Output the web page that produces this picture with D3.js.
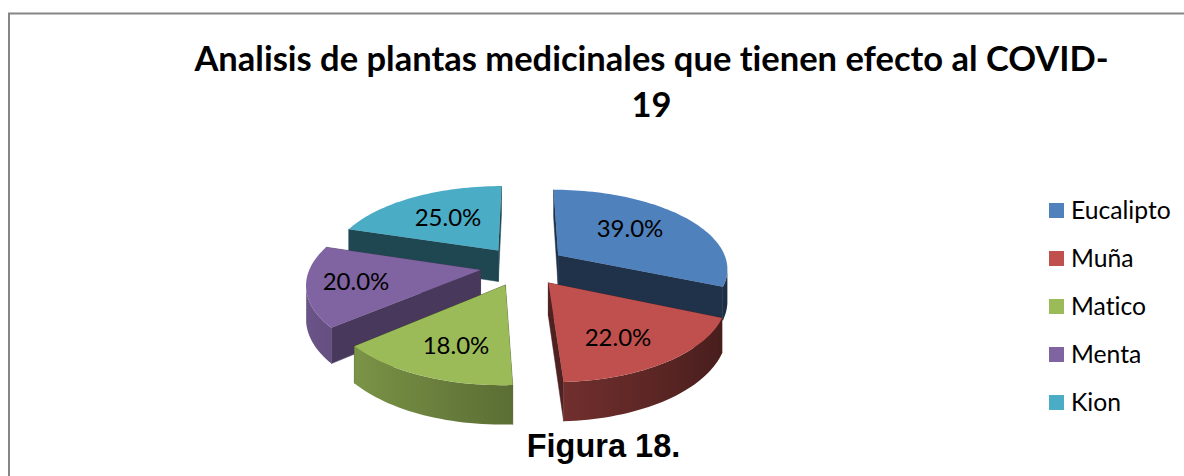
<!DOCTYPE html>
<html>
<head>
<meta charset="utf-8">
<script src="https://cdn.jsdelivr.net/npm/d3@7/dist/d3.min.js"></script>
<style>
html,body{margin:0;padding:0;background:#fff;overflow:hidden}
svg{display:block}
text{font-variant-ligatures:none}
</style>
</head>
<body>
<svg id="chart" width="1184" height="476"></svg>
<script>
const categories = ["Eucalipto","Muña","Matico","Menta","Kion"];
const values = [39,22,18,20,25];
const valueLabels = ["39.0%","22.0%","18.0%","20.0%","25.0%"];
const colors = ["#4F81BD","#C0504D","#9BBB59","#8064A2","#4BACC6"];
const cutShades = [0.39,0.41,0.42,0.56,0.41];
const titleLines = ["Analisis de plantas medicinales que tienen efecto al COVID-","19"];
const caption = "Figura 18.";

const svg = d3.select("#chart");
const W = 1184, H = 476;
svg.append("rect").attr("width",W).attr("height",H).attr("fill","#fff");
const defs = svg.append("defs");

// frame (top and left edges only, the rest is cropped off)
svg.append("path").attr("d","M9,476V13.5H1184").attr("fill","none").attr("stroke","#868686").attr("stroke-width",2);

// 3D projection of the exploded pie
const cx=523, cy=266, R=170, explode=43, tilt=0.462, persp=0.000896, thick=32;
const project=(X,Y,z=0)=>{const w=1+persp*Y;return [cx+X/w, cy-tilt*Y/w+z/w];};

const pie=d3.pie().sort(null).value(d=>d)(values);
const slices=pie.map((p,i)=>{
  const mid=(p.startAngle+p.endAngle)/2;
  return {i,a0:p.startAngle,a1:p.endAngle,ox:explode*Math.sin(mid),oy:explode*Math.cos(mid)};
});
const line=d3.line();
const shade=(c,f)=>{const r=d3.rgb(c);return d3.rgb(r.r*f,r.g*f,r.b*f).formatHex();};

const order=[4,0,3,2,1];
const g=svg.append("g");
order.forEach(idx=>{
  const s=slices[idx], col=colors[idx];
  const P=(a,r,z=0)=>project(s.ox+r*Math.sin(a),s.oy+r*Math.cos(a),z);
  const sg=g.append("g");
  // cut faces
  const cutCol=shade(col,cutShades[idx]);
  [s.a0,s.a1].forEach(a=>{
    const q=[P(a,0),P(a,R),P(a,R,thick),P(a,0,thick)];
    sg.append("path").attr("d",line(q)+"Z").attr("fill",cutCol).attr("stroke",cutCol).attr("stroke-width",0.5);
  });
  // outer rim: one band with a horizontal gradient following the light
  const n=Math.ceil((s.a1-s.a0)/0.03);
  const ang=d3.scaleLinear().domain([0,n]).range([s.a0,s.a1]);
  const angles=d3.range(n+1).map(ang);
  // the rim faces the viewer only on the near side of the silhouette
  const vis=angles.filter((a,k)=>{
    if(k===n) return P(angles[k-1],R)[0]>P(a,R)[0];
    return P(a,R)[0]>P(angles[k+1],R)[0];
  });
  if(vis.length>1){
    const band=[...vis.map(a=>P(a,R)),...vis.slice().reverse().map(a=>P(a,R,thick))];
    const xs=vis.map(a=>P(a,R)[0]);
    const x0=d3.min(xs), x1=d3.max(xs);
    const pos=d3.scaleLinear().domain([x0,x1]).range([0,100]);
    const grad=defs.append("linearGradient").attr("id","rim"+idx)
      .attr("gradientUnits","userSpaceOnUse").attr("x1",x0).attr("x2",x1).attr("y1",0).attr("y2",0);
    vis.slice().sort((a,b)=>P(a,R)[0]-P(b,R)[0]).forEach(a=>{
      const t=(1-Math.sin(a))/2;
      grad.append("stop").attr("offset",pos(P(a,R)[0])+"%").attr("stop-color",shade(col,0.35+0.5*t));
    });
    sg.append("path").attr("d",line(band)+"Z").attr("fill",`url(#rim${idx})`);
  }
  // top face
  const top=[P(0,0),...angles.map(a=>P(a,R))];
  sg.append("path").attr("d",line(top)+"Z").attr("fill",col);
});

// data labels
const labelPos=[[630,229],[618,338],[456,346],[356,282],[448,218]];
svg.append("g").selectAll("text").data(valueLabels).join("text")
  .attr("x",(d,i)=>labelPos[i][0]).attr("y",(d,i)=>labelPos[i][1])
  .attr("dy","0.35em").attr("text-anchor","middle")
  .attr("font-family","Lato").attr("font-size",24).attr("fill","#000").text(d=>d);

// title
svg.append("g").selectAll("text").data(titleLines).join("text")
  .attr("x",651.5).attr("y",(d,i)=>71+i*46).attr("text-anchor","middle")
  .attr("font-family","Lato").attr("font-weight",700).attr("font-size",34.5).attr("fill","#000").text(d=>d);

// legend
const ly=d3.scalePoint().domain(categories).range([210.5,402.5]);
const lg=svg.append("g").selectAll("g").data(categories).join("g");
lg.append("rect").attr("x",1049).attr("y",d=>ly(d)-7.5).attr("width",15).attr("height",15).attr("fill",(d,i)=>colors[i]);
lg.append("text").attr("x",1071).attr("y",d=>ly(d)-0.5).attr("dy","0.35em")
  .attr("font-family","Lato").attr("font-size",24.7).attr("fill","#000").text(d=>d);

// caption
svg.append("text").attr("x",603.5).attr("y",457).attr("text-anchor","middle")
  .attr("font-family","Liberation Sans").attr("font-weight",700).attr("font-size",32.5).attr("fill","#000").text(caption);
</script>
</body>
</html>
